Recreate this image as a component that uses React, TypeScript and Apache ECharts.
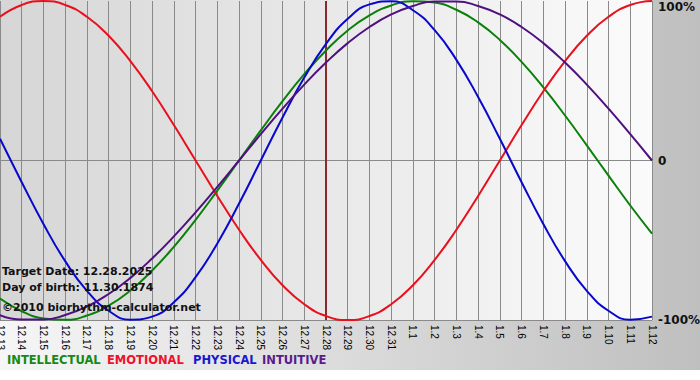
import React, { useEffect, useRef } from "react";
import * as echarts from "echarts";

const dates = [
  "12.13", "12.14", "12.15", "12.16", "12.17", "12.18", "12.19", "12.20", "12.21", "12.22",
  "12.23", "12.24", "12.25", "12.26", "12.27", "12.28", "12.29", "12.30", "12.31", "1.1",
  "1.2", "1.3", "1.4", "1.5", "1.6", "1.7", "1.8", "1.9", "1.10", "1.11", "1.12",
];

const intellectual = [
  -86.6, -94.5, -99.0, -99.9, -97.2, -91.0, -81.5, -69.0, -54.1, -37.2,
  -18.9, 0, 18.9, 37.2, 54.1, 69.0, 81.5, 91.0, 97.2, 99.9,
  99.0, 94.5, 86.6, 75.6, 61.8, 45.8, 28.2, 9.5, -9.5, -28.2, -45.8,
];

const emotional = [
  90.1, 97.5, 100, 97.5, 90.1, 78.2, 62.3, 43.4, 22.2, 0,
  -22.2, -43.4, -62.3, -78.2, -90.1, -97.5, -100, -97.5, -90.1, -78.2,
  -62.3, -43.4, -22.2, 0, 22.2, 43.4, 62.3, 78.2, 90.1, 97.5, 100,
];

const physical = [
  13.6, -13.6, -39.8, -63.1, -81.7, -94.2, -99.8, -97.9, -88.8, -73.1,
  -52.0, -27.0, 0, 27.0, 52.0, 73.1, 88.8, 97.9, 99.8, 94.2,
  81.7, 63.1, 39.8, 13.6, -13.6, -39.8, -63.1, -81.7, -94.2, -99.8, -97.9,
];

const intuitive = [
  -96.9, -99.7, -99.7, -96.9, -91.6, -83.7, -73.6, -61.4, -47.6, -32.5,
  -16.5, 0, 16.5, 32.5, 47.6, 61.4, 73.6, 83.7, 91.6, 96.9,
  99.7, 99.7, 96.9, 91.6, 83.7, 73.6, 61.4, 47.6, 32.5, 16.5, 0,
];

const targetDate = "12.28";
const infoLines = [
  "Target Date: 12.28.2025",
  "Day of birth: 11.30.1874",
  "\u00a92010 biorhythm-calculator.net",
];
const legendNames = ["INTELLECTUAL", "EMOTIONAL", "PHYSICAL", "INTUITIVE"];

const COLORS = {
  intellectual: "#0a800a",
  emotional: "#e8101c",
  physical: "#0808cc",
  intuitive: "#4e1080",
};
const LEGEND_COLORS = ["#138a13", "#f0102a", "#1818d0", "#5a1a90"];

export default function App() {
  const ref = useRef<HTMLDivElement>(null);

  useEffect(() => {
    document.body.style.margin = "0";
    const chart = echarts.init(ref.current!, null, { renderer: "svg" });

    const lineSeries = (name: string, data: number[], color: string, extra: any = {}) => ({
      name,
      type: "line",
      data,
      smooth: 0.5,
      showSymbol: false,
      symbol: "none",
      lineStyle: { color, width: 2 },
      itemStyle: { color },
      z: 3,
      ...extra,
    });

    const legendX = [7, 107, 193, 262];
    const infoY = [266, 282, 302];

    chart.setOption({
      animation: false,
      graphic: [
        {
          type: "rect",
          z: -20,
          shape: { x: 0, y: 0, width: 700, height: 370 },
          style: {
            fill: new echarts.graphic.LinearGradient(0, 0, 1, 0, [
              { offset: 0, color: "#f6f6f6" },
              { offset: 1, color: "#bfbfbf" },
            ]),
          },
        },
        {
          type: "rect",
          z: -19,
          shape: { x: 0, y: 0, width: 652, height: 320 },
          style: {
            fill: new echarts.graphic.LinearGradient(0, 0, 1, 0, [
              { offset: 0, color: "#d6d6d6" },
              { offset: 1, color: "#fbfbfb" },
            ]),
          },
        },
        ...infoLines.map((t, i) => ({
          type: "text",
          z: 100,
          left: 2,
          top: infoY[i],
          style: {
            text: t,
            fill: "#111",
            font: 'bold 11px "DejaVu Sans"',
          },
        })),
        ...legendNames.map((t, i) => ({
          type: "text",
          z: 100,
          left: legendX[i],
          top: 354,
          style: {
            text: t,
            fill: LEGEND_COLORS[i],
            font: 'bold 11.5px "DejaVu Sans"',
          },
        })),
      ],
      grid: { left: 0, right: 48, top: 1, bottom: 60, containLabel: false, outerBoundsMode: "none" },
      xAxis: {
        type: "category",
        data: dates,
        boundaryGap: false,
        axisLine: { show: true, lineStyle: { color: "#8a8a8a", width: 1 } },
        axisTick: { show: true, length: 3, interval: 0, lineStyle: { color: "#8a8a8a" } },
        splitLine: { show: true, interval: 0, lineStyle: { color: "#8a8a8a", width: 1 } },
        axisLabel: {
          interval: 0,
          rotate: -90,
          margin: 5,
          color: "#000",
          fontFamily: "Liberation Sans",
          fontSize: 10,
          hideOverlap: false,
        },
      },
      yAxis: {
        type: "value",
        position: "right",
        min: -100,
        max: 100,
        interval: 100,
        axisLine: { show: false },
        axisTick: { show: false },
        splitLine: {
          show: true,
          lineStyle: { color: ["#8a8a8a", "#8a8a8a", "transparent"], width: 1 },
        },
        axisLabel: {
          margin: 6,
          color: "#111",
          fontFamily: "DejaVu Sans",
          fontWeight: "bold",
          fontSize: 12,
          verticalAlignMaxLabel: "top",
          formatter: (v: number) => (v === 0 ? "0" : v + "%"),
        },
      },
      series: [
        lineSeries("INTELLECTUAL", intellectual, COLORS.intellectual, {
          markLine: {
            silent: true,
            symbol: "none",
            label: { show: false },
            lineStyle: { color: "#8b2a2e", width: 2, type: "solid" },
            data: [{ xAxis: targetDate }],
            z: 2,
          },
        }),
        lineSeries("EMOTIONAL", emotional, COLORS.emotional),
        lineSeries("PHYSICAL", physical, COLORS.physical),
        lineSeries("INTUITIVE", intuitive, COLORS.intuitive),
      ],
    });

    return () => chart.dispose();
  }, []);

  return (
    <div
      ref={ref}
      style={{ position: "absolute", left: 0, top: 0, width: 700, height: 380, background: "#fff" }}
    />
  );
}
